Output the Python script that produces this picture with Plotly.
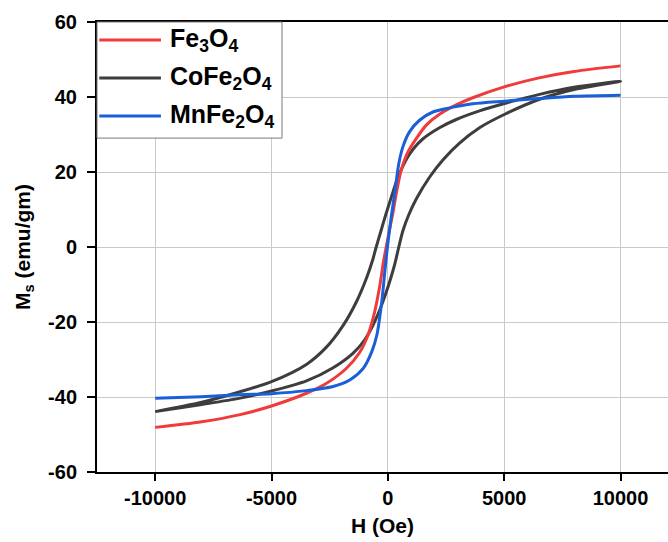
import plotly.graph_objects as go

# ---- data ----
series_names = ["Fe<sub>3</sub>O<sub>4</sub>", "CoFe<sub>2</sub>O<sub>4</sub>", "MnFe<sub>2</sub>O<sub>4</sub>"]
series_colors = ["#ef3b3b", "#3d3d3d", "#1a5fd8"]

# Fe3O4 (negligible hysteresis)
H_fe = [-10000, -8000, -6350, -5000, -3500, -2650, -1790, -1220, -860, -575, -360, -190, -40,
        100, 215, 360, 575, 860, 1220, 1650, 2220, 2940, 3650, 5000, 6500, 8000, 10000]
M_fe = [-48.1, -46.6, -44.7, -42.4, -39.0, -36.4, -32.4, -28.2, -23.6, -17.5, -10.8, -4.0, 1.0,
        5.5, 9.0, 14.2, 20.5, 25.3, 28.9, 32.5, 35.4, 37.9, 39.8, 42.7, 45.1, 46.8, 48.3]

# CoFe2O4 descending branch (+H -> -H)
H_co_down = [10000, 8000, 6520, 5090, 3940, 2940, 2220, 1500, 1100, 790, 430, 150, -100, -300,
             -500, -650, -900, -1350, -1920, -2640, -3500, -5000, -6350, -8000, -10000]
M_co_down = [44.2, 42.6, 40.7, 38.4, 36.3, 34.0, 31.8, 28.8, 26.2, 23.3, 18.5, 13.3, 8.4, 4.2,
             0.0, -3.4, -8.0, -14.6, -20.9, -26.7, -31.3, -35.9, -38.6, -41.4, -43.9]
# CoFe2O4 ascending branch (-H -> +H)
H_co_up = [-10000, -8000, -6350, -5000, -3500, -2350, -1490, -1000, -650, -350, -100, 150, 300,
           470, 650, 900, 1220, 1790, 2365, 3080, 3940, 5090, 6520, 8000, 10000]
M_co_up = [-43.9, -42.0, -40.3, -38.4, -35.7, -32.2, -28.3, -24.8, -21.0, -16.8, -12.6, -7.8, -4.5,
           0.0, 4.4, 8.6, 12.8, 18.6, 23.2, 27.7, 31.8, 35.6, 39.4, 42.0, 44.2]

# MnFe2O4 (negligible hysteresis)
H_mn = [-10000, -8000, -6370, -5000, -3500, -2350, -1620, -1050, -690, -470, -260, -115, 0,
        145, 290, 470, 645, 930, 1360, 1935, 2650, 3650, 5000, 6500, 8000, 10000]
M_mn = [-40.3, -39.9, -39.4, -39.1, -38.3, -37.2, -35.4, -32.3, -27.9, -23.4, -14.5, -5.6, 1.0,
        8.0, 14.2, 22.2, 26.7, 30.7, 33.8, 36.0, 37.1, 38.2, 38.9, 39.6, 40.2, 40.5]

x_ticks = [-10000, -5000, 0, 5000, 10000]
y_ticks = [-60, -40, -20, 0, 20, 40, 60]

FONT = "Liberation Sans, Arial, sans-serif"
LINE = dict(width=3, shape="spline", smoothing=0.8)

fig = go.Figure()
fig.add_trace(go.Scatter(x=H_co_down + H_co_up, y=M_co_down + M_co_up, mode="lines",
                         line=dict(color=series_colors[1], **LINE),
                         name=series_names[1], showlegend=False))
fig.add_trace(go.Scatter(x=H_fe, y=M_fe, mode="lines",
                         line=dict(color=series_colors[0], **LINE),
                         name=series_names[0], showlegend=False))
fig.add_trace(go.Scatter(x=H_mn, y=M_mn, mode="lines",
                         line=dict(color=series_colors[2], **LINE),
                         name=series_names[2], showlegend=False))

# custom legend (box, line samples, labels) in paper coordinates
shapes = [dict(type="rect", xref="paper", yref="paper", x0=0.0, x1=0.324, y0=0.742, y1=1.0,
               line=dict(color="#7a7a7a", width=1), fillcolor="white", layer="above")]
annotations = []
rows_y = [0.96, 0.8755, 0.791]
for name, col, yy in zip(series_names, series_colors, rows_y):
    shapes.append(dict(type="line", xref="paper", yref="paper", x0=0.004, x1=0.112, y0=yy, y1=yy,
                       line=dict(color=col, width=3), layer="above"))
    annotations.append(dict(xref="paper", yref="paper", x=0.125, y=yy, text=name, showarrow=False,
                            xanchor="left", yanchor="middle",
                            font=dict(family=FONT, size=25, color="black", weight="bold")))

fig.update_layout(
    width=668, height=542,
    margin=dict(l=97, r=0, t=22, b=70),
    paper_bgcolor="white", plot_bgcolor="white",
    shapes=shapes, annotations=annotations,
    showlegend=False,
    font=dict(family=FONT, size=20, color="black", weight="bold"),
)
fig.update_xaxes(
    range=[-12500, 12040], tickvals=x_ticks, ticktext=[str(v) for v in x_ticks],
    showgrid=True, gridcolor="#c9c9c9", gridwidth=1, zeroline=False,
    showline=True, linecolor="black", linewidth=2, mirror=True,
    ticks="outside", ticklen=7, tickwidth=2, tickcolor="black",
    tickfont=dict(family=FONT, size=20, color="black", weight="bold"),
    title=dict(text="H (Oe)", font=dict(family=FONT, size=21, color="black", weight="bold"), standoff=10),
)
fig.update_yaxes(
    range=[-60, 60], tickvals=y_ticks, ticktext=[str(v) for v in y_ticks],
    showgrid=True, gridcolor="#c9c9c9", gridwidth=1, zeroline=False,
    showline=True, linecolor="black", linewidth=2,
    ticks="outside", ticklen=8, tickwidth=2, tickcolor="black", ticklabelstandoff=6,
    tickfont=dict(family=FONT, size=20, color="black", weight="bold"),
    title=dict(text="M<sub>s</sub> (emu/gm)", font=dict(family=FONT, size=21, color="black", weight="bold"), standoff=12),
)

# remove the default page margin and scrollbars so the figure fills the window exactly
fig.write_html(
    "out.html",
    config={"displayModeBar": False},
    post_script=("document.documentElement.style.margin='0';document.body.style.margin='0';"
                 "document.documentElement.style.overflow='hidden';document.body.style.overflow='hidden';"),
)
